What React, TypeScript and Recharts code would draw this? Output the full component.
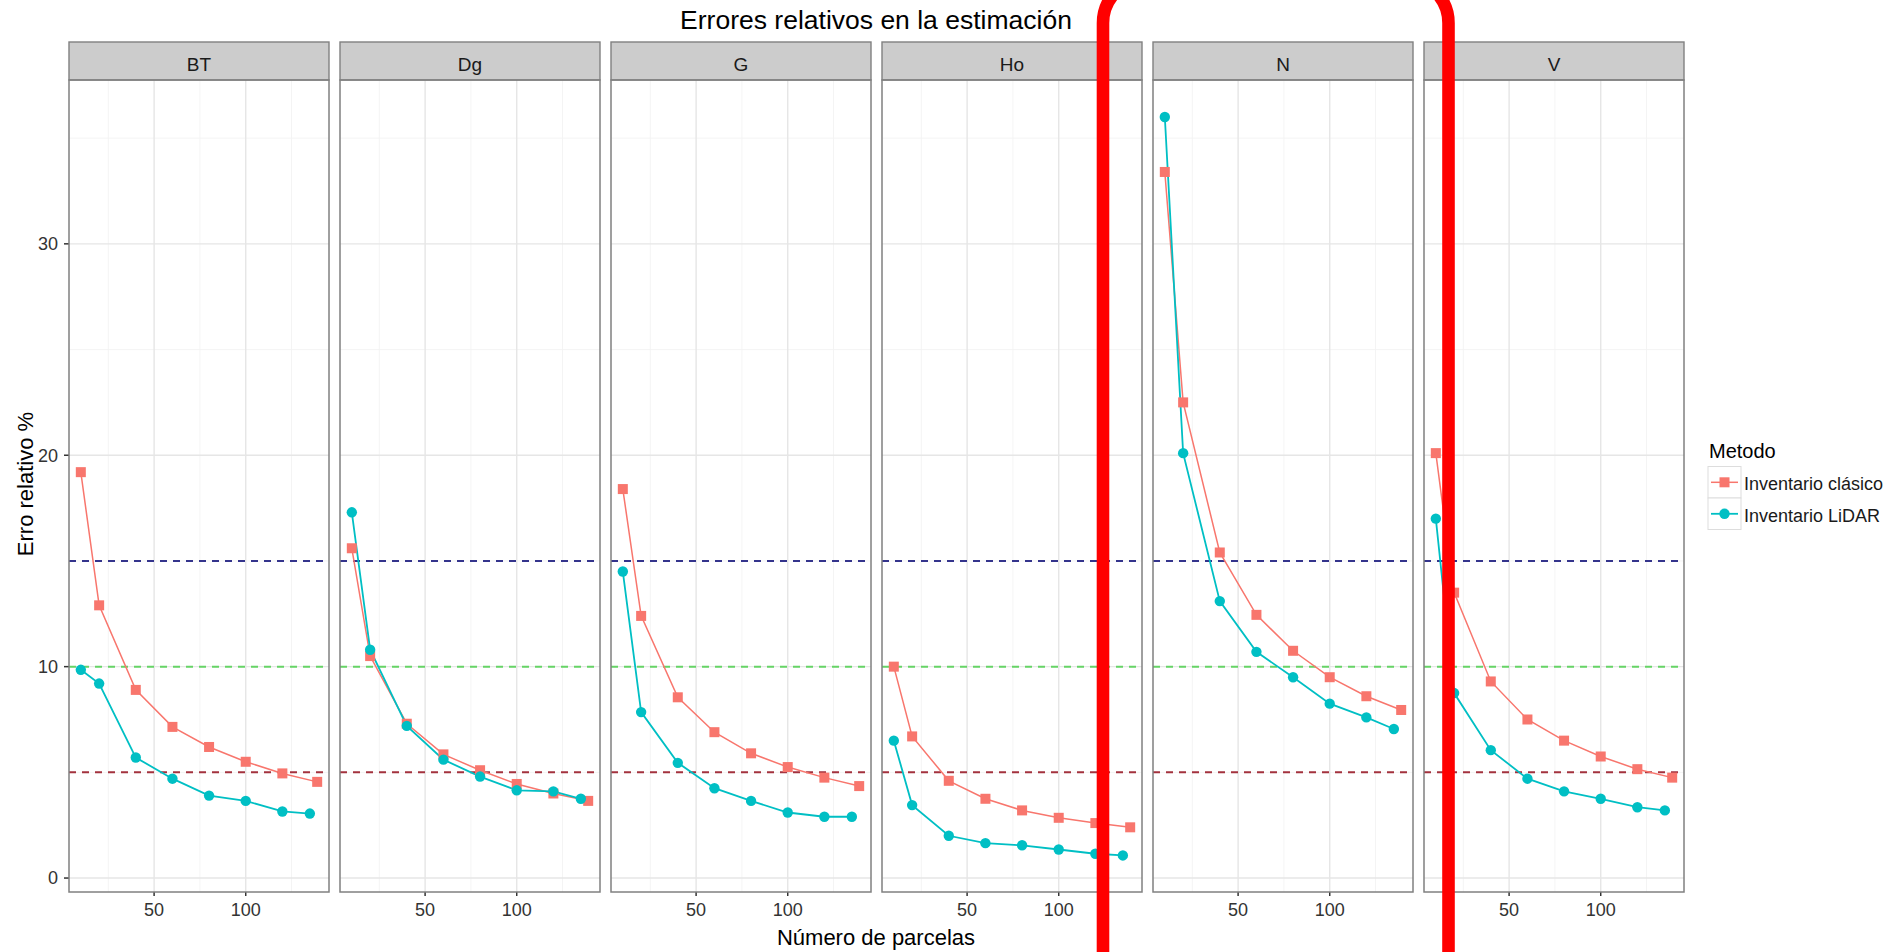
import React from "react";
import { LineChart, Line, XAxis, YAxis, CartesianGrid, ReferenceLine } from "recharts";

// facet variables and the number of plots sampled
const PANELS = ["BT", "Dg", "G", "Ho", "N", "V"];
const N_CLASICO = [10, 20, 40, 60, 80, 100, 120, 139];
const N_LIDAR = [10, 20, 40, 60, 80, 100, 120, 135];

// relative error %
const clasicoBT = [19.2, 12.9, 8.9, 7.15, 6.2, 5.5, 4.95, 4.55];
const lidarBT = [9.85, 9.2, 5.7, 4.7, 3.9, 3.65, 3.15, 3.05];
const clasicoDg = [15.6, 10.5, 7.3, 5.85, 5.1, 4.45, 4.0, 3.65];
const lidarDg = [17.3, 10.8, 7.2, 5.6, 4.8, 4.15, 4.1, 3.75];
const clasicoG = [18.4, 12.4, 8.55, 6.9, 5.9, 5.25, 4.75, 4.35];
const lidarG = [14.5, 7.85, 5.45, 4.25, 3.65, 3.1, 2.9, 2.9];
const clasicoHo = [10.0, 6.7, 4.6, 3.75, 3.2, 2.85, 2.6, 2.4];
const lidarHo = [6.5, 3.45, 2.0, 1.65, 1.55, 1.35, 1.15, 1.07];
const clasicoN = [33.4, 22.5, 15.4, 12.45, 10.75, 9.5, 8.6, 7.95];
const lidarN = [36.0, 20.1, 13.1, 10.7, 9.5, 8.25, 7.6, 7.05];
const clasicoV = [20.1, 13.5, 9.3, 7.5, 6.5, 5.75, 5.15, 4.75];
const lidarV = [17.0, 8.75, 6.05, 4.7, 4.1, 3.75, 3.35, 3.2];

const CLASICO = [clasicoBT, clasicoDg, clasicoG, clasicoHo, clasicoN, clasicoV];
const LIDAR = [lidarBT, lidarDg, lidarG, lidarHo, lidarN, lidarV];

const UMBRALES = [15, 10, 5];
const UMBRAL_COLORS = ["#34348c", "#66d466", "#a3323e"];

const X_TICKS = [50, 100];
const X_MINOR = [25, 75, 125];
const Y_TICKS = [0, 10, 20, 30];
const Y_MINOR = [5, 15, 25, 35];

const C_CLASICO = "#F8766D";
const C_LIDAR = "#00BFC4";

const FONT = "'Liberation Sans', Arial, Helvetica, sans-serif";
const PANEL_X0 = 69;
const STEP = 271;
const PANEL_W = 260;
const PLOT_TOP = 80;
const PLOT_H = 812;
const AXIS_W = 69;
const INK = "#333333";

function SquareDot(props: any) {
  const { cx, cy, index } = props;
  if (cx == null || cy == null) return <g key={index} />;
  return <rect key={index} x={cx - 5} y={cy - 5} width={10} height={10} fill={C_CLASICO} />;
}

function RoundDot(props: any) {
  const { cx, cy, index } = props;
  if (cx == null || cy == null) return <g key={index} />;
  return <circle key={index} cx={cx} cy={cy} r={5.2} fill={C_LIDAR} />;
}

function Panel({ i }: { i: number }) {
  const axisW = i === 0 ? AXIS_W : 0;
  const clasico = N_CLASICO.map((x, k) => ({ x, y: CLASICO[i][k] }));
  const lidar = N_LIDAR.map((x, k) => ({ x, y: LIDAR[i][k] }));
  return (
    <div style={{ position: "absolute", left: PANEL_X0 + i * STEP - axisW, top: PLOT_TOP }}>
      <LineChart
        width={PANEL_W + axisW}
        height={PLOT_H + 40}
        margin={{ top: 0, right: 0, bottom: 0, left: 0 }}
      >
        <CartesianGrid
          horizontalValues={Y_MINOR}
          verticalValues={X_MINOR}
          stroke="#f3f3f3"
          strokeWidth={0.9}
        />
        <CartesianGrid
          horizontalValues={Y_TICKS}
          verticalValues={X_TICKS}
          stroke="#e6e6e6"
          strokeWidth={1.4}
        />
        <XAxis
          type="number"
          dataKey="x"
          domain={[3.55, 145.45]}
          ticks={X_TICKS}
          allowDataOverflow
          height={40}
          axisLine={false}
          tickSize={4}
          tickMargin={7}
          tickLine={{ stroke: INK, strokeWidth: 1.5 }}
          tick={{ fontSize: 18, fill: INK, fontFamily: FONT }}
        />
        <YAxis
          type="number"
          domain={[-0.66, 37.75]}
          ticks={Y_TICKS}
          allowDataOverflow
          hide={i !== 0}
          width={AXIS_W}
          axisLine={false}
          tickSize={5}
          tickMargin={6}
          tickLine={{ stroke: INK, strokeWidth: 1.5 }}
          tick={{ fontSize: 18, fill: INK, fontFamily: FONT }}
        />
        {UMBRALES.map((u, k) => (
          <ReferenceLine
            key={u}
            y={u}
            stroke={UMBRAL_COLORS[k]}
            strokeWidth={2}
            strokeDasharray="7 6"
          />
        ))}
        <Line
          data={clasico}
          dataKey="y"
          stroke={C_CLASICO}
          strokeWidth={1.5}
          dot={SquareDot}
          activeDot={false}
          isAnimationActive={false}
        />
        <Line
          data={lidar}
          dataKey="y"
          stroke={C_LIDAR}
          strokeWidth={1.8}
          dot={RoundDot}
          activeDot={false}
          isAnimationActive={false}
        />
      </LineChart>
    </div>
  );
}

export default function App() {
  return (
    <div
      style={{
        position: "absolute",
        left: 0,
        top: 0,
        width: 1903,
        height: 952,
        overflow: "hidden",
        background: "#fff",
        fontFamily: FONT,
      }}
    >
      {PANELS.map((_, i) => (
        <Panel key={i} i={i} />
      ))}
      <svg
        width={1903}
        height={952}
        style={{ position: "absolute", left: 0, top: 0, pointerEvents: "none" }}
        fontFamily={FONT}
      >
        {PANELS.map((p, i) => {
          const L = PANEL_X0 + i * STEP;
          return (
            <g key={p}>
              <rect x={L} y={42} width={PANEL_W} height={38} fill="#cccccc" stroke="#808080" strokeWidth={1.4} />
              <text x={L + PANEL_W / 2} y={70.5} textAnchor="middle" fontSize={19} fill="#1a1a1a">
                {p}
              </text>
              <rect x={L} y={PLOT_TOP} width={PANEL_W} height={PLOT_H} fill="none" stroke="#808080" strokeWidth={1.5} />
            </g>
          );
        })}
        <text x={876} y={29} textAnchor="middle" fontSize={26.5} fill="#000">
          Errores relativos en la estimación
        </text>
        <text x={876} y={945} textAnchor="middle" fontSize={22} fill="#000">
          Número de parcelas
        </text>
        <text
          x={0}
          y={0}
          transform="translate(32.5,484) rotate(-90)"
          textAnchor="middle"
          fontSize={22}
          fill="#000"
        >
          Erro relativo %
        </text>

        {/* legend */}
        <text x={1709} y={458} fontSize={20} fill="#000">
          Metodo
        </text>
        <rect x={1708} y={466.5} width={33} height={31.5} fill="#fff" stroke="#dddddd" strokeWidth={1} />
        <rect x={1708} y={498} width={33} height={31.5} fill="#fff" stroke="#dddddd" strokeWidth={1} />
        <line x1={1711} x2={1738} y1={482.3} y2={482.3} stroke={C_CLASICO} strokeWidth={1.5} />
        <rect x={1719.5} y={477.3} width={10} height={10} fill={C_CLASICO} />
        <line x1={1711} x2={1738} y1={513.8} y2={513.8} stroke={C_LIDAR} strokeWidth={1.8} />
        <circle cx={1724.5} cy={513.8} r={5.2} fill={C_LIDAR} />
        <text x={1744} y={490} fontSize={18} fill="#1a1a1a">
          Inventario clásico
        </text>
        <text x={1744} y={521.5} fontSize={18} fill="#1a1a1a">
          Inventario LiDAR
        </text>

        {/* red highlight around the N panel */}
        <rect
          x={1103}
          y={-21}
          width={345.5}
          height={1020}
          rx={44}
          ry={44}
          fill="none"
          stroke="#ff0000"
          strokeWidth={12.6}
        />
      </svg>
    </div>
  );
}
